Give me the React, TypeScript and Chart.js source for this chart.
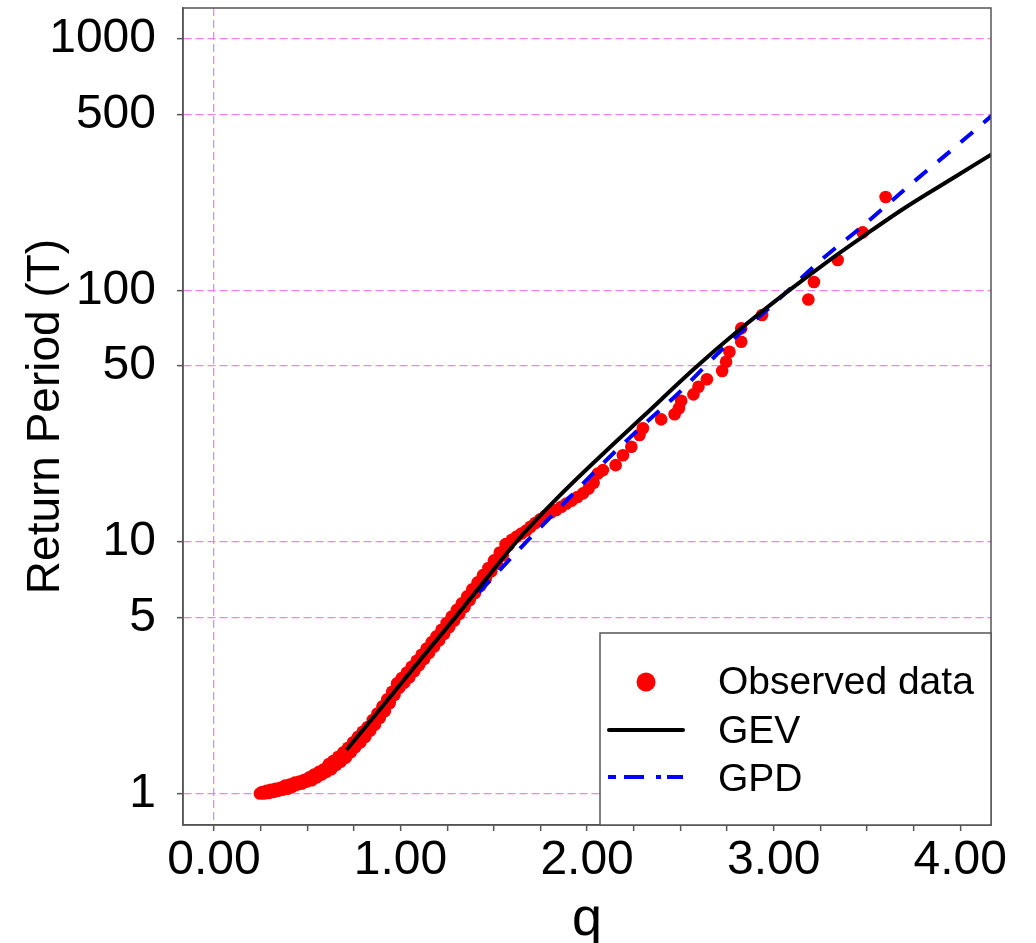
import React, { useEffect, useRef } from 'react';
import { Chart, registerables } from 'chart.js';

Chart.register(...registerables);

// ---- Data ----
const qObs = [
  0.246, 0.258, 0.268, 0.281, 0.293, 0.304, 0.318, 0.329, 0.342, 0.355, 0.367, 0.381, 0.394, 0.406,
  0.419, 0.433, 0.445, 0.458, 0.471, 0.485, 0.497, 0.511, 0.524, 0.537, 0.551, 0.563, 0.577, 0.589,
  0.602, 0.616, 0.628, 0.641, 0.655, 0.667, 0.68, 0.694, 0.707, 0.719, 0.733, 0.746, 0.758, 0.772,
  0.785, 0.797, 0.811, 0.824, 0.838, 0.851, 0.863, 0.876, 0.889, 0.903, 0.916, 0.929, 0.942, 0.955,
  0.968, 0.981, 0.994, 1.007, 1.021, 1.034, 1.047, 1.06, 1.074, 1.087, 1.1, 1.113, 1.127, 1.14,
  1.153, 1.167, 1.18, 1.193, 1.207, 1.22, 1.234, 1.247, 1.261, 1.274, 1.288, 1.302, 1.315, 1.329,
  1.343, 1.357, 1.371, 1.385, 1.399, 1.413, 1.428, 1.442, 1.457, 1.471, 1.486, 1.501, 1.516, 1.532,
  1.548, 1.563, 1.579, 1.597, 1.622, 1.648, 1.674, 1.697, 1.722, 1.748, 1.776, 1.806, 1.834, 1.862,
  1.889, 1.918, 1.948, 1.978, 2.008, 2.035, 2.058, 2.085, 2.153, 2.192, 2.237, 2.281, 2.299, 2.397,
  2.469, 2.492, 2.504, 2.57, 2.597, 2.642, 2.724, 2.745, 2.763, 2.826, 2.826, 2.938, 3.186, 3.216,
  3.343, 3.477, 3.6,
];
const tObs = [
  1.0, 1.015, 1.0, 1.025, 1.005, 1.035, 1.015, 1.045, 1.025, 1.055, 1.035, 1.075, 1.045, 1.085,
  1.065, 1.105, 1.085, 1.115, 1.095, 1.135, 1.115, 1.16, 1.13, 1.19, 1.16, 1.22, 1.19, 1.25,
  1.22, 1.31, 1.25, 1.35, 1.3, 1.4, 1.34, 1.46, 1.39, 1.52, 1.46, 1.6, 1.53, 1.68,
  1.6, 1.76, 1.68, 1.84, 1.78, 1.96, 1.88, 2.08, 2.0, 2.22, 2.13, 2.37, 2.29, 2.54,
  2.47, 2.74, 2.64, 2.88, 2.76, 3.03, 2.9, 3.19, 3.07, 3.37, 3.24, 3.56, 3.43, 3.77,
  3.63, 4.0, 3.84, 4.22, 4.07, 4.48, 4.32, 4.76, 4.59, 5.05, 4.87, 5.37, 5.18, 5.71,
  5.52, 6.08, 5.88, 6.49, 6.27, 6.91, 6.69, 7.38, 7.15, 7.88, 7.64, 8.45, 8.2, 9.08,
  8.84, 9.8, 9.7, 10.2, 10.5, 10.8, 11.1, 11.5, 11.9, 12.3, 12.7, 13.1, 13.4, 13.8,
  14.2, 14.6, 15.1, 15.6, 16.3, 17.2, 18.7, 19.3, 20.2, 22.1, 23.9, 26.6, 28.3, 30.7,
  32.2, 34.0, 36.4, 38.6, 41.4, 44.3, 47.8, 52.0, 57.0, 62.5, 70.6, 79.8, 92, 108,
  132, 170, 235,
];

const qGev = [0.71, 0.9, 1.1, 1.29, 1.45, 1.62, 1.85, 2.11, 2.3, 2.58, 2.8, 3.06, 3.3, 3.48, 3.7, 3.96, 4.17];
const tGev = [1.49, 2.21, 3.36, 4.98, 7.0, 10.0, 15.2, 23.3, 31.5, 49.2, 68.1, 97, 132, 164, 212, 279, 348];

const qGpd = [1.42, 1.674, 1.85, 2.058, 2.3, 2.48, 2.73, 2.99, 3.26, 3.46, 3.74, 3.95, 4.17];
const tGpd = [6.3, 10.0, 13.6, 19.6, 29.1, 38.4, 58.9, 87, 133, 176, 266, 359, 495];

const xTicks = [0, 0.25, 0.5, 0.75, 1, 1.25, 1.5, 1.75, 2, 2.25, 2.5, 2.75, 3, 3.25, 3.5, 3.75, 4];
const yTicks = [1, 5, 10, 50, 100, 500, 1000];
const seriesLabels = ['Observed data', 'GEV', 'GPD'];

const GRID = '#ee82ee';
const AXIS = '#555555';
const FONT = "'Liberation Sans', Arial, sans-serif";

const toPoints = (xs: number[], ys: number[]) => xs.map((x, i) => ({ x, y: ys[i] }));

const framePlugin = {
  id: 'frameAndLegend',
  afterDraw(chart: any) {
    const { ctx, chartArea } = chart;
    const { left, top, right, bottom } = chartArea;
    ctx.save();
    ctx.strokeStyle = AXIS;
    ctx.lineWidth = 1.5;
    ctx.setLineDash([]);
    ctx.strokeRect(left, top, right - left, bottom - top);

    // legend box in lower right of the plot area
    const bw = 391;
    const bh = 192;
    const bx = right - bw;
    const by = bottom - bh;
    ctx.fillStyle = '#ffffff';
    ctx.fillRect(bx, by, bw, bh);
    ctx.strokeRect(bx, by, bw, bh);

    const ds = chart.data.datasets;
    ctx.beginPath();
    ctx.fillStyle = ds[0].backgroundColor;
    ctx.arc(bx + 46, by + 49, 9.5, 0, Math.PI * 2);
    ctx.fill();

    ctx.beginPath();
    ctx.strokeStyle = ds[1].borderColor;
    ctx.lineWidth = 4;
    ctx.lineCap = 'round';
    ctx.moveTo(bx + 9, by + 97);
    ctx.lineTo(bx + 83, by + 97);
    ctx.stroke();

    ctx.beginPath();
    ctx.strokeStyle = ds[2].borderColor;
    ctx.lineCap = 'butt';
    ctx.setLineDash([8, 8, 20, 12, 5, 6, 16, 6]);
    ctx.moveTo(bx + 8, by + 144);
    ctx.lineTo(bx + 85, by + 144);
    ctx.stroke();
    ctx.setLineDash([]);

    ctx.fillStyle = '#000000';
    ctx.font = `39px ${FONT}`;
    ctx.textAlign = 'left';
    ctx.textBaseline = 'alphabetic';
    ctx.fillText(ds[0].label, bx + 118, by + 61);
    ctx.fillText(ds[1].label, bx + 118, by + 110);
    ctx.fillText(ds[2].label, bx + 118, by + 158);
    ctx.restore();
  },
};

export default function App() {
  const ref = useRef<HTMLCanvasElement | null>(null);

  useEffect(() => {
    document.body.style.margin = '0';
    Chart.defaults.font.family = FONT;
    const canvas = ref.current;
    if (!canvas) return;
    const chart = new Chart(canvas, {
      type: 'scatter',
      data: {
        datasets: [
          {
            label: seriesLabels[0],
            data: toPoints(qObs, tObs),
            backgroundColor: '#ff0000',
            borderWidth: 0,
            pointRadius: 6.3,
            pointHoverRadius: 6.3,
            showLine: false,
            order: 2,
          },
          {
            label: seriesLabels[1],
            data: toPoints(qGev, tGev),
            borderColor: '#000000',
            backgroundColor: '#000000',
            borderWidth: 4,
            pointRadius: 0,
            showLine: true,
            cubicInterpolationMode: 'monotone',
            order: 0,
          },
          {
            label: seriesLabels[2],
            data: toPoints(qGpd, tGpd),
            borderColor: '#0000ff',
            backgroundColor: '#0000ff',
            borderWidth: 4,
            borderDash: [16, 14],
            pointRadius: 0,
            showLine: true,
            cubicInterpolationMode: 'monotone',
            order: 1,
          },
        ],
      },
      options: {
        responsive: false,
        animation: false,
        devicePixelRatio: 1,
        layout: { padding: { top: 8, right: 45, left: 0, bottom: 0 } },
        plugins: { legend: { display: false }, tooltip: { enabled: false } },
        scales: {
          x: {
            type: 'linear',
            min: -0.166,
            max: 4.165,
            afterBuildTicks: (s: any) => {
              s.ticks = xTicks.map((v) => ({ value: v }));
            },
            afterFit: (s: any) => {
              s.height = 118;
              s.paddingLeft = 0;
              s.paddingRight = 0;
            },
            ticks: {
              autoSkip: false,
              maxRotation: 0,
              minRotation: 0,
              padding: 1,
              color: '#000000',
              font: { size: 48 },
              callback: (v: any) => (Number.isInteger(Number(v)) ? Number(v).toFixed(2) : ''),
            },
            grid: {
              color: (c: any) => (c.tick && c.tick.value === 0 ? GRID : 'rgba(0,0,0,0)'),
              tickColor: AXIS,
              tickLength: 6,
              tickWidth: 1.5,
              tickBorderDash: [],
              lineWidth: 1.3,
            },
            border: { color: AXIS, width: 1.5, dash: [8, 4] },
            title: {
              display: true,
              text: 'q',
              color: '#000000',
              font: { size: 54, lineHeight: 0.82 },
              padding: { top: 0, bottom: 1 },
            },
          },
          y: {
            type: 'logarithmic',
            min: 0.75,
            max: 1325,
            afterBuildTicks: (s: any) => {
              s.ticks = yTicks.map((v) => ({ value: v }));
            },
            afterFit: (s: any) => {
              s.width = 183;
              s.paddingTop = 0;
              s.paddingBottom = 0;
            },
            ticks: {
              autoSkip: false,
              padding: 21,
              color: '#000000',
              font: { size: 48 },
              callback: (v: any) => String(v),
            },
            grid: {
              color: GRID,
              tickColor: AXIS,
              tickLength: 6,
              tickWidth: 1.5,
              tickBorderDash: [],
              lineWidth: 1.3,
            },
            border: { color: AXIS, width: 1.5, dash: [8, 4] },
            title: {
              display: true,
              text: 'Return Period (T)',
              color: '#000000',
              font: { size: 46 },
              padding: { top: 19, bottom: 0 },
            },
          },
        },
      },
      plugins: [framePlugin],
    } as any);
    return () => chart.destroy();
  }, []);

  return (
    <div style={{ position: 'absolute', left: 0, top: 0, width: 1036, height: 943 }}>
      <canvas ref={ref} width={1036} height={943} style={{ width: 1036, height: 943, display: 'block' }} />
    </div>
  );
}
